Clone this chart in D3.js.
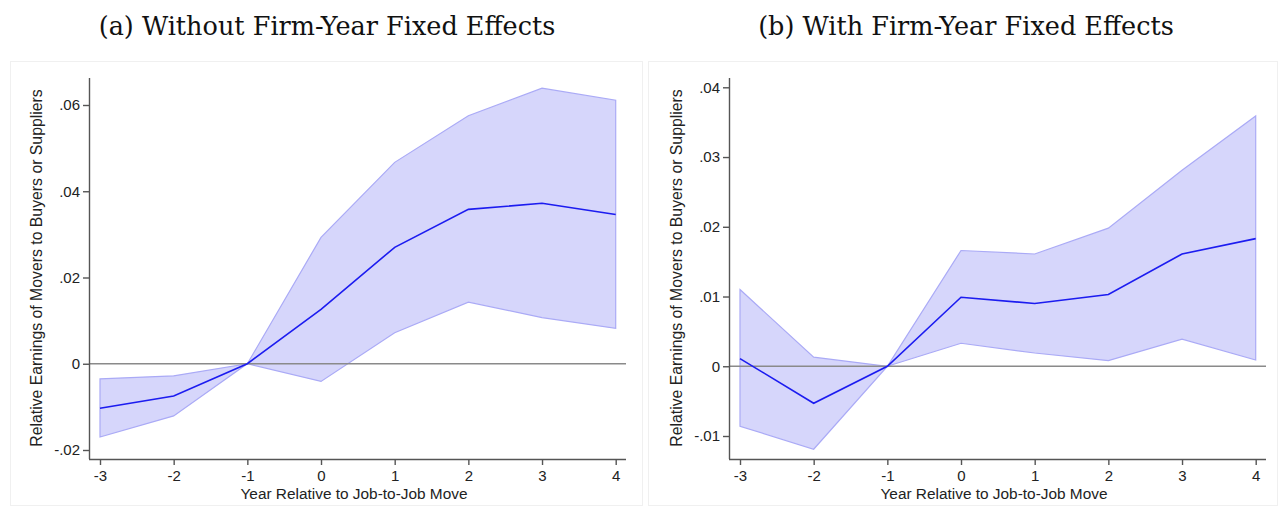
<!DOCTYPE html>
<html>
<head>
<meta charset="utf-8">
<script src="https://cdn.jsdelivr.net/npm/d3@7"></script>
<style>
  body { margin: 0; background: #fff; }
  svg { display: block; }
</style>
</head>
<body>
<div id="chart"></div>
<script>
// years relative to the move
const years = [-3, -2, -1, 0, 1, 2, 3, 4];

// panel (a): without firm-year fixed effects
const estA = [-0.0103, -0.0075, 0, 0.0126, 0.0270, 0.0358, 0.0372, 0.0346];
const upperA = [-0.0035, -0.0028, 0, 0.0293, 0.0467, 0.0575, 0.0639, 0.0611];
const lowerA = [-0.0170, -0.0121, 0, -0.0041, 0.0072, 0.0143, 0.0107, 0.0082];
const yTicksA = [-0.02, 0, 0.02, 0.04, 0.06];

// panel (b): with firm-year fixed effects
const estB = [0.0011, -0.0053, 0, 0.0099, 0.0090, 0.0103, 0.0161, 0.0183];
const upperB = [0.0110, 0.0013, 0, 0.0166, 0.0161, 0.0198, 0.0281, 0.0359];
const lowerB = [-0.0086, -0.0119, 0, 0.0033, 0.0019, 0.0008, 0.0039, 0.0009];
const yTicksB = [-0.01, 0, 0.01, 0.02, 0.03, 0.04];

const titles = ["(a) Without Firm-Year Fixed Effects", "(b) With Firm-Year Fixed Effects"];
const xTitle = "Year Relative to Job-to-Job Move";
const yTitle = "Relative Earnings of Movers to Buyers or Suppliers";

const width = 1278, height = 506;
const sans = "Liberation Sans, Arial, sans-serif";

const svg = d3.select("#chart").append("svg")
  .attr("width", width)
  .attr("height", height)
  .attr("viewBox", [0, 0, width, height]);

// Stata style labels: .02, -.01, plain hyphen for minus
const fmt = d => {
  if (d === 0) return "0";
  return d3.format(".2f")(d).replace("\u2212", "-").replace(/^(-?)0\./, "$1.");
};
const fmtX = d => String(d);

function panel(opt) {
  const { left, frame, title, titleX, est, upper, lower, yDomain, yRange, yTicks, yTitleX } = opt;
  const plotLeft = left, plotRight = left + 537, plotTop = 78, plotBottom = 459;

  const g = svg.append("g");

  // faint frame around the graph
  g.append("rect")
    .attr("x", frame[0] + 0.5).attr("y", 61.5)
    .attr("width", frame[1]).attr("height", 444)
    .attr("fill", "none").attr("stroke", "#f0f0f0");

  const x = d3.scaleLinear().domain([-3, 4]).range([left + 11, left + 526.7]);
  const y = d3.scaleLinear().domain(yDomain).range(yRange);

  const rows = years.map((yr, i) => ({ yr, est: est[i], hi: upper[i], lo: lower[i] }));

  // confidence band
  g.append("path")
    .datum(rows)
    .attr("fill", "#d6d6fb")
    .attr("stroke", "#aaaaf6")
    .attr("stroke-width", 1.2)
    .attr("d", d3.area().x(d => x(d.yr)).y0(d => y(d.lo)).y1(d => y(d.hi)));

  // zero reference line
  g.append("line")
    .attr("x1", plotLeft).attr("x2", plotRight)
    .attr("y1", y(0)).attr("y2", y(0))
    .attr("stroke", "#8a8a8a").attr("stroke-width", 1.3);

  // point estimates
  g.append("path")
    .datum(rows)
    .attr("fill", "none")
    .attr("stroke", "#1c1cf0")
    .attr("stroke-width", 1.6)
    .attr("d", d3.line().x(d => x(d.yr)).y(d => y(d.est)));

  // y axis
  g.append("g")
    .attr("transform", `translate(${plotLeft},0)`)
    .call(d3.axisLeft(y).tickValues(yTicks).tickFormat(fmt).tickSize(6).tickSizeOuter(0))
    .call(a => a.select(".domain").attr("d", `M0.5,${plotTop}V${plotBottom}`))
    .call(a => a.selectAll("line, .domain").attr("stroke", "#555").attr("stroke-width", 1.4))
    .call(a => a.selectAll("text")
      .attr("font-family", sans)
      .attr("font-size", 15).attr("fill", "#222").attr("x", -9));

  // x axis
  g.append("g")
    .attr("transform", `translate(0,${plotBottom})`)
    .call(d3.axisBottom(x).tickValues(years).tickFormat(fmtX).tickSize(6).tickSizeOuter(0))
    .call(a => a.select(".domain").attr("d", `M${plotLeft},0.5H${plotRight}`))
    .call(a => a.selectAll("line, .domain").attr("stroke", "#555").attr("stroke-width", 1.4))
    .call(a => a.selectAll("text")
      .attr("font-family", sans)
      .attr("font-size", 15).attr("fill", "#222").attr("y", 11));

  // axis titles
  g.append("text")
    .attr("x", plotLeft + 265).attr("y", 499)
    .attr("text-anchor", "middle")
    .attr("font-family", sans)
    .attr("font-size", 15.4).attr("fill", "#222")
    .text(xTitle);

  g.append("text")
    .attr("transform", `translate(${yTitleX},268) rotate(-90)`)
    .attr("text-anchor", "middle")
    .attr("font-family", sans)
    .attr("font-size", 15.8).attr("fill", "#222")
    .text(yTitle);

  // panel title
  const t = svg.append("text")
    .attr("x", titleX).attr("y", 35)
    .attr("text-anchor", "middle")
    .attr("font-family", "DejaVu Serif, serif")
    .attr("font-size", 26).attr("fill", "#111")
    .text(title);
  return t;
}

const tA = panel({
  left: 89, frame: [10, 632], title: titles[0], titleX: 327,
  est: estA, upper: upperA, lower: lowerA,
  yDomain: [-0.02, 0.06], yRange: [450, 105], yTicks: yTicksA, yTitleX: 42
});

const tB = panel({
  left: 729, frame: [648, 629], title: titles[1], titleX: 966,
  est: estB, upper: upperB, lower: lowerB,
  yDomain: [-0.01, 0.04], yRange: [436, 87.3], yTicks: yTicksB, yTitleX: 682
});

// scale the serif titles so that (a) spans about 457px as in the original
const len = tA.node().getComputedTextLength();
const size = 26 * 457 / len;
tA.attr("font-size", size);
tB.attr("font-size", size);
</script>
</body>
</html>
